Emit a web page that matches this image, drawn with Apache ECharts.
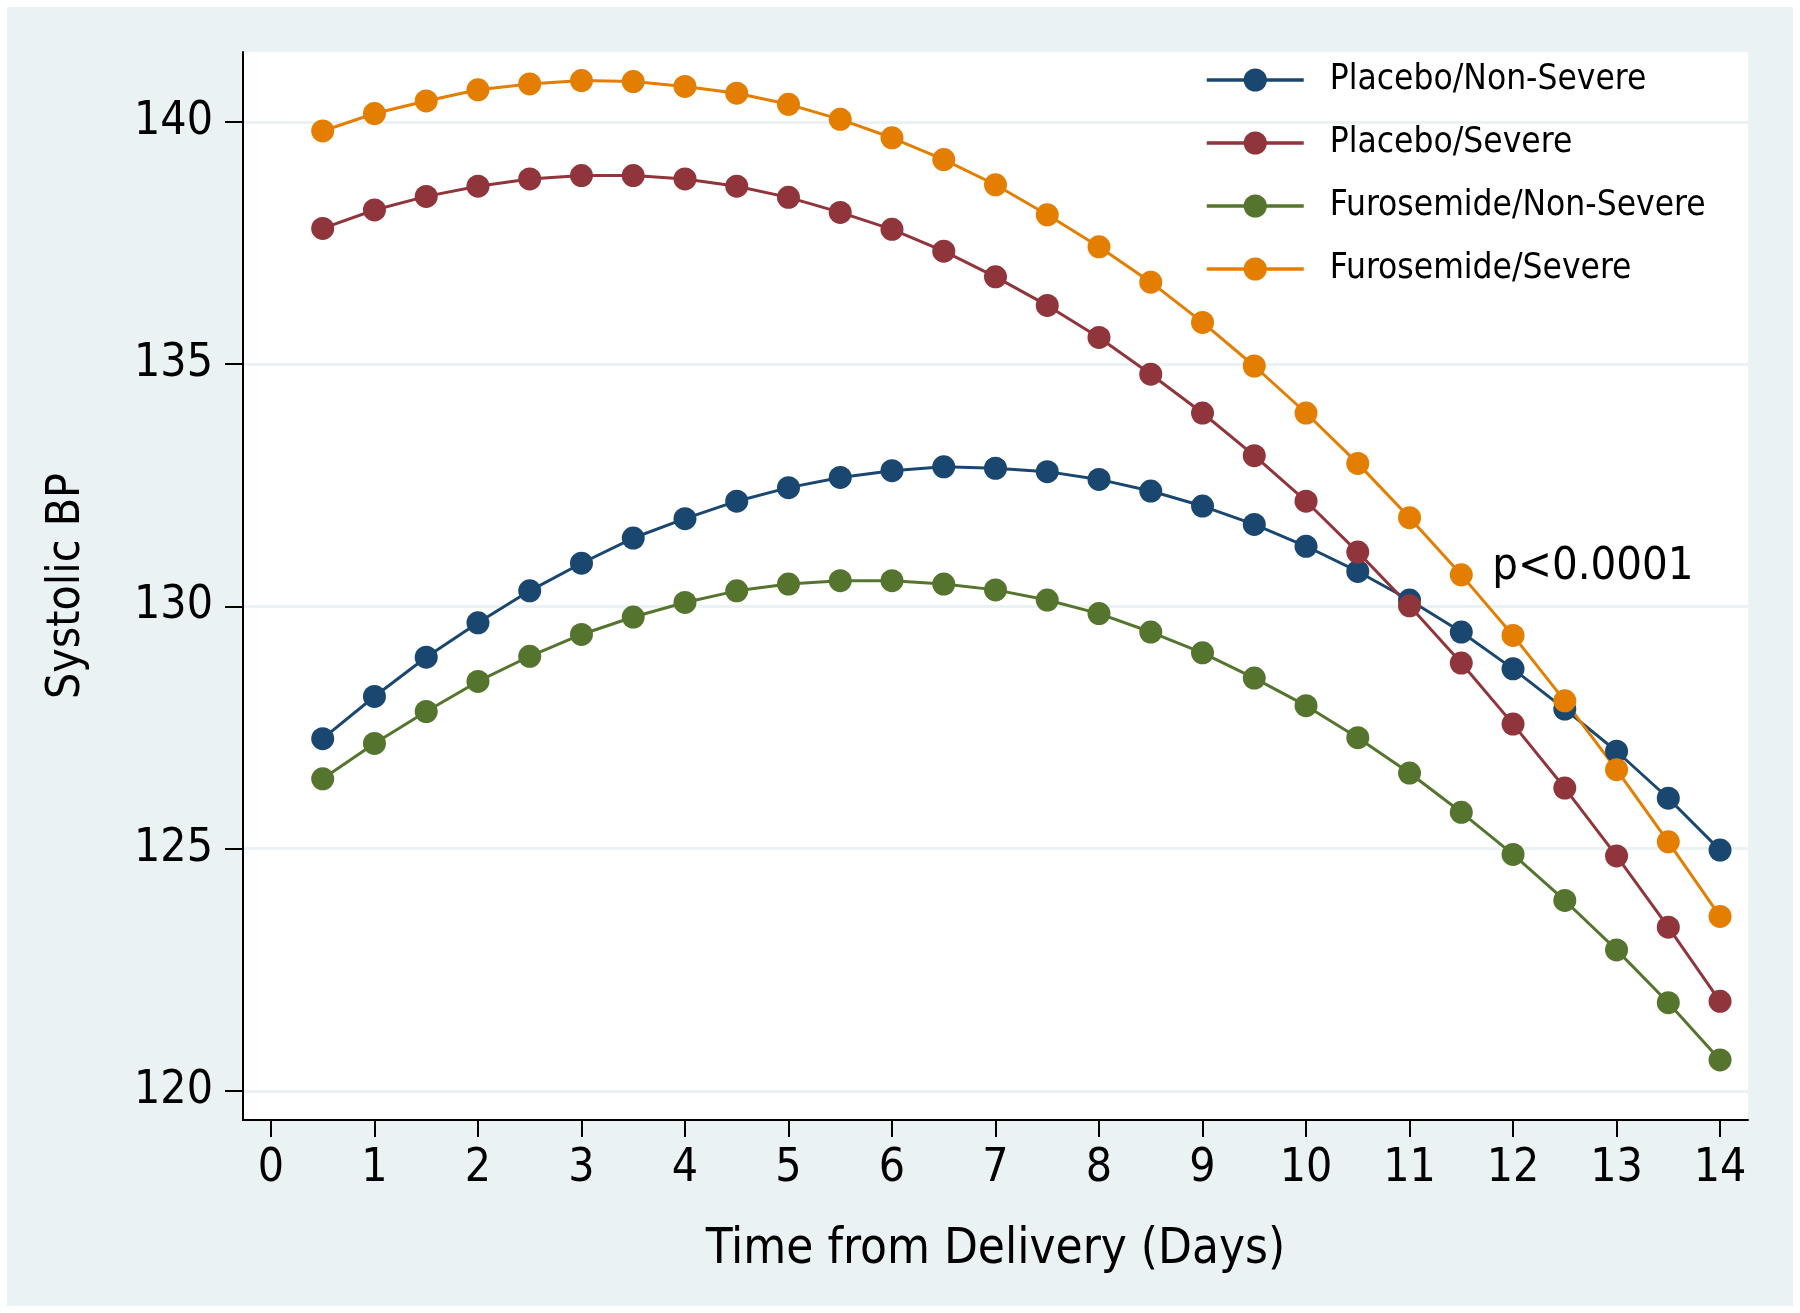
<!DOCTYPE html>
<html><head><meta charset="utf-8">
<script src="https://cdn.jsdelivr.net/npm/echarts@6/dist/echarts.min.js"></script>
<style>html,body{margin:0;padding:0;background:#fff;}#c{position:absolute;left:7px;top:7px;width:1786px;height:1299px;}</style>
</head><body><div id="c"></div>
<script>
var days = [0.5,1,1.5,2,2.5,3,3.5,4,4.5,5,5.5,6,6.5,7,7.5,8,8.5,9,9.5,10,10.5,11,11.5,12,12.5,13,13.5,14];
var placeboNonSevere = [127.27,128.14,128.95,129.66,130.32,130.89,131.41,131.81,132.17,132.45,132.66,132.80,132.88,132.85,132.78,132.62,132.38,132.07,131.69,131.24,130.72,130.13,129.47,128.71,127.88,127.01,126.04,124.97];
var placeboSevere = [137.80,138.18,138.46,138.67,138.82,138.89,138.89,138.82,138.67,138.44,138.13,137.78,137.33,136.80,136.21,135.55,134.79,133.99,133.11,132.17,131.12,130.01,128.83,127.57,126.25,124.85,123.38,121.85];
var furoNonSevere = [126.44,127.17,127.83,128.45,128.97,129.42,129.78,130.08,130.32,130.46,130.53,130.53,130.46,130.34,130.13,129.85,129.47,129.04,128.52,127.95,127.29,126.56,125.75,124.88,123.93,122.91,121.82,120.64];
var furoSevere = [139.81,140.17,140.43,140.66,140.78,140.85,140.83,140.73,140.59,140.36,140.05,139.67,139.22,138.70,138.08,137.42,136.69,135.86,134.96,133.99,132.95,131.83,130.65,129.40,128.05,126.63,125.14,123.60];
var seriesNames = ['Placebo/Non-Severe','Placebo/Severe','Furosemide/Non-Severe','Furosemide/Severe'];
var seriesColors = ['#1a476f','#90353b','#55752f','#e37e00'];
var xTicks = [0,1,2,3,4,5,6,7,8,9,10,11,12,13,14];
var yTicks = [120,125,130,135,140];
var pNote = {text:'p<0.0001', x:11.8, y:130.8};

var FONT = '"DejaVu Sans Condensed","DejaVu Sans",sans-serif';
function pairs(v){ return days.map(function(d,i){ return [d, v[i]]; }); }
var allVals = [placeboNonSevere, placeboSevere, furoNonSevere, furoSevere];
var series = allVals.map(function(v,i){
  return {
    name: seriesNames[i], type:'line', data: pairs(v), symbol:'circle', symbolSize:23,
    itemStyle:{color:seriesColors[i]}, lineStyle:{color:seriesColors[i], width:3},
    emphasis:{disabled:true}, z: 3, animation:false
  };
});
series.push({
  type:'scatter', data:[[pNote.x, pNote.y]], symbolSize:0, silent:true, animation:false, z:5,
  itemStyle:{opacity:1},
  label:{show:true, position:'right', distance:0, formatter:pNote.text, color:'#000', opacity:1, fontSize:45, fontFamily:FONT}
});

var chart = echarts.init(document.getElementById('c'), null, {renderer:'canvas'});
chart.setOption({
  backgroundColor:'#eaf2f3',
  animation:false,
  grid:{left:236, top:45, right:45, bottom:186, show:true, backgroundColor:'#ffffff', borderWidth:0, containLabel:false},
  legend:{
    data:seriesNames, orient:'vertical', left:1193, top:48,
    itemWidth:97, itemHeight:29, itemGap:23, selectedMode:false,
    lineStyle:{width:3.5},
    textStyle:{fontSize:35, fontFamily:FONT, color:'#000', padding:[0,0,0,21], lineHeight:40}
  },
  xAxis:{
    type:'value', min:-0.27, max:14.27,
    name:'Time from Delivery (Days)', nameLocation:'middle', nameGap:106,
    nameTextStyle:{fontSize:49, fontFamily:FONT, color:'#000'},
    axisLine:{show:true, onZero:false, lineStyle:{color:'#000', width:2}},
    axisTick:{show:true, length:17, lineStyle:{color:'#000', width:2}, customValues:xTicks},
    axisLabel:{fontSize:46, fontFamily:FONT, color:'#000', margin:26, customValues:xTicks},
    splitLine:{show:false}
  },
  yAxis:{
    type:'value', min:119.4, max:141.44,
    name:'Systolic BP', nameLocation:'middle', nameGap:153, nameRotate:90,
    nameTextStyle:{fontSize:46, fontFamily:FONT, color:'#000'},
    axisLine:{show:true, onZero:false, lineStyle:{color:'#000', width:2}},
    axisTick:{show:true, length:18, lineStyle:{color:'#000', width:2}, customValues:yTicks},
    axisLabel:{fontSize:46, fontFamily:FONT, color:'#000', margin:30, customValues:yTicks},
    splitLine:{show:true, lineStyle:{color:'#eaf2f3', width:3}}
  },
  series: series
});
</script></body></html>
